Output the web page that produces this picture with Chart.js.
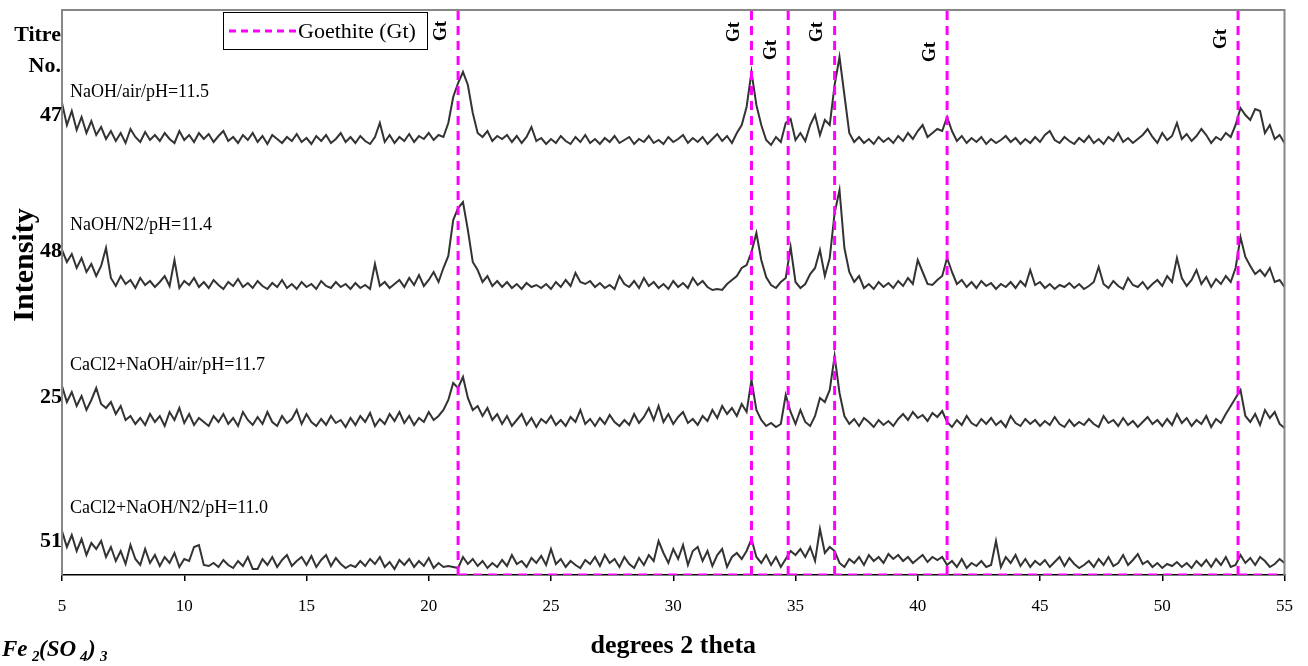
<!DOCTYPE html>
<html>
<head>
<meta charset="utf-8">
<title>XRD - Fe2(SO4)3 titres</title>
<script src="https://cdn.jsdelivr.net/npm/chart.js@4.4.0/dist/chart.umd.min.js"></script>
<style>
  html, body { margin: 0; padding: 0; background: #fff; }
  #wrap { width: 1308px; height: 666px; }
</style>
</head>
<body>
<div id="wrap"><canvas id="xrd" width="1308" height="666"></canvas></div>
<script>
// scan grid: 5 -> 55 deg 2theta, 0.2 deg steps
const angleStart = 5;
const angleStep = 0.2;
const xTicks = [5, 10, 15, 20, 25, 30, 35, 40, 45, 50, 55];

const titreNos = ['47', '48', '25', '51'];
const sampleNames = ['NaOH/air/pH=11.5', 'NaOH/N2/pH=11.4', 'CaCl2+NaOH/air/pH=11.7', 'CaCl2+NaOH/N2/pH=11.0'];
// vertical stacking of the patterns (intensity units)
const traceOffsets = [430, 285, 147, 6];

// intensities, one value per 0.2 deg
const titre47 = [
  42, 20, 34, 15, 28, 12, 24, 10, 18, 6,
  14, 4, 12, 2, 16, 8, 3, 13, 5, 10,
  4, 12, 6, 2, 14, 5, 10, 3, 12, 6,
  11, 3, 9, 14, 4, 8, 2, 10, 5, 12,
  3, 9, 1, 10, 6, 2, 8, 4, 11, 3,
  7, 1, 9, 4, 10, 2, 6, 12, 3, 8,
  2, 9, 4, 1, 8, 22, 3, 10, 2, 8,
  4, 11, 3, 9, 6, 12, 5, 10, 8, 22,
  48, 62, 73, 60, 32, 12, 8, 14, 4, 9,
  6, 10, 3, 9, 2, 8, 18, 4, 7, 1,
  6, 2, 9, 4, 1, 8, 3, 10, 2, 6,
  1, 7, 3, 9, 2, 5, 8, 1, 6, 3,
  9, 2, 5, 1, 8, 3, 6, 10, 2, 7,
  3, 8, 1, 6, 11, 4, 9, 2, 12, 20,
  38, 73, 40, 20, 5, 0, 8, 3, 22, 26,
  5, 12, 4, 20, 30, 10, 25, 20, 60, 88,
  50, 12, 3, 8, 2, 6, 1, 8, 3, 7,
  2, 9, 4, 12, 6, 14, 20, 8, 12, 16,
  14, 28, 14, 4, 9, 2, 7, 3, 8, 1,
  6, 2, 5, 9, 3, 7, 1, 6, 2, 8,
  3, 10, 14, 5, 2, 8, 4, 1, 7, 3,
  9, 2, 6, 1, 8, 4, 12, 3, 7, 2,
  6, 10, 16, 8, 2, 12, 5, 9, 22, 6,
  11, 4, 9, 16, 10, 2, 8, 5, 12, 8,
  20, 37, 30, 25, 36, 34, 12, 20, 6, 10,
  2
];
const titre48 = [
  40, 28, 36, 22, 32, 18, 26, 14, 24, 42,
  12, 4, 14, 6, 10, 2, 12, 5, 9, 3,
  8, 14, 4, 30, 2, 9, 5, 12, 3, 8,
  2, 10, 5, 1, 8, 4, 11, 3, 7, 2,
  9, 4, 1, 7, 3, 10, 2, 6, 1, 8,
  3, 6, 1, 9, 4, 2, 8, 3, 6, 1,
  7, 2, 5, 1, 26, 4, 8, 2, 6, 10,
  3, 12, 5, 15, 4, 10, 18, 8, 22, 34,
  70, 82, 88, 60, 28, 20, 8, 14, 4, 9,
  3, 8, 2, 6, 1, 7, 3, 5, 2, 6,
  1, 8, 3, 10, 4, 17, 8, 6, 9, 3,
  7, 2, 5, 1, 14, 6, 3, 9, 2, 12,
  4, 8, 2, 6, 1, 9, 3, 7, 2, 12,
  5, 9, 3, 0, 1, 0, 6, 10, 14, 22,
  25, 38, 57, 30, 13, 5, 2, 8, 12, 43,
  8, 2, 6, 16, 22, 40, 14, 32, 77, 100,
  42, 18, 8, 14, 2, 6, 1, 8, 3, 7,
  2, 9, 4, 12, 6, 30, 18, 6, 5, 10,
  14, 32, 18, 6, 10, 3, 8, 2, 9, 4,
  7, 1, 6, 3, 8, 2, 9, 4, 20, 5,
  8, 2, 6, 1, 5, 3, 7, 2, 6, 1,
  4, 8, 23, 6, 2, 9, 4, 1, 12, 5,
  3, 8, 1, 6, 10, 4, 14, 8, 32, 12,
  4, 10, 20, 6, 13, 3, 11, 6, 14, 8,
  22, 53, 33, 24, 16, 20, 14, 22, 8, 10,
  3
];
const titre25 = [
  42, 26, 36, 22, 32, 18, 28, 40, 24, 20,
  26, 14, 22, 8, 12, 4, 10, 3, 14, 6,
  12, 2, 16, 8, 20, 5, 14, 3, 10, 6,
  2, 12, 6, 14, 4, 10, 2, 16, 8, 3,
  11, 4, 16, 6, 2, 12, 5, 9, 18, 4,
  14, 6, 2, 9, 3, 12, 5, 8, 1, 10,
  3, 12, 6, 15, 2, 9, 4, 14, 7, 16,
  5, 12, 3, 10, 6, 16, 8, 12, 18, 28,
  45, 40, 51, 30, 18, 22, 12, 20, 8, 14,
  4, 12, 2, 8, 14, 3, 10, 1, 9, 5,
  12, 3, 8, 2, 11, 6, 18, 4, 9, 2,
  10, 4, 13, 6, 2, 8, 3, 14, 5, 11,
  20, 8, 22, 6, 14, 4, 11, 16, 5, 9,
  3, 12, 7, 18, 10, 22, 14, 20, 12, 24,
  16, 48, 18, 8, 2, 5, 1, 4, 33, 16,
  4, 18, 6, 2, 12, 30, 26, 38, 72, 35,
  12, 4, 9, 2, 10, 6, 1, 8, 3, 7,
  2, 9, 14, 8, 16, 10, 13, 7, 15, 11,
  17, 6, 1, 8, 3, 12, 5, 2, 9, 4,
  10, 3, 7, 1, 12, 5, 2, 9, 4, 8,
  2, 7, 3, 11, 4, 1, 8, 2, 6, 3,
  9, 4, 1, 12, 5, 8, 2, 10, 3, 7,
  1, 6, 11, 4, 8, 2, 9, 3, 14, 5,
  10, 2, 8, 4, 12, 1, 9, 5, 14, 22,
  30, 38, 12, 6, 14, 3, 18, 10, 16, 4,
  0
];
const titre51 = [
  38, 22, 34, 18, 30, 14, 26, 20, 28, 12,
  22, 8, 18, 5, 24, 10, 4, 20, 6, 14,
  3, 12, 6, 16, 2, 10, 8, 22, 24, 4,
  3, 6, 2, 9, 4, 1, 8, 3, 12, 0,
  0, 10, 4, 12, 2, 9, 14, 3, 8, 12,
  4, 13, 2, 9, 14, 3, 11, 5, 1, 4,
  2, 8, 3, 10, 5, 12, 2, 7, 0, 9,
  4, 10, 2, 8, 3, 11, 1, 6, 2, 3,
  2, 1, 12, 5, 10, 3, 8, 1, 6, 2,
  9, 3, 14, 5, 8, 2, 11, 6, 13, 4,
  20, 5, 10, 2, 8, 4, 1, 9, 5, 12,
  3, 14, 6, 10, 2, 12, 5, 1, 11, 4,
  14, 8, 28, 16, 6, 20, 10, 24, 4, 18,
  22, 8, 18, 3, 14, 20, 2, 12, 16, 10,
  18, 30, 12, 6, 14, 4, 12, 2, 10, 18,
  14, 20, 12, 22, 8, 40, 16, 22, 18, 6,
  2, 10, 6, 12, 4, 14, 8, 12, 6, 15,
  10, 14, 8, 12, 6, 10, 14, 7, 12, 9,
  12, 4, 8, 2, 10, 1, 6, 3, 8, 2,
  4, 28, 2, 12, 6, 14, 3, 10, 2, 8,
  4, 9, 2, 7, 12, 3, 11, 5, 1, 4,
  8, 2, 10, 4, 12, 3, 6, 14, 4, 9,
  15, 5, 8, 2, 6, 1, 5, 3, 7, 2,
  6, 1, 8, 3, 9, 2, 10, 4, 12, 2,
  4, 14, 6, 11, 4, 12, 8, 2, 5, 10,
  6
];

// goethite reference reflections (deg 2theta)
const goethitePeaks = [21.2, 33.2, 34.7, 36.6, 41.2, 53.1];

const yTop = 565;
const serif = "'Liberation Serif', 'Times New Roman', serif";
const traceColor = '#333333';
const gtColor = '#ff00ff';

const patterns = [titre47, titre48, titre25, titre51];

function toPoints(vals, offset) {
  return vals.map((v, i) => ({ x: +(angleStart + i * angleStep).toFixed(1), y: offset + v }));
}

// each reference line drawn once bottom -> top, gaps in between, then the baseline run to 55
const gtPoints = [];
goethitePeaks.forEach(p => {
  gtPoints.push({ x: p, y: 0 }, { x: p, y: yTop }, { x: p, y: null });
});
gtPoints.push({ x: goethitePeaks[0], y: 0 }, { x: 55, y: 0 });

const datasets = patterns.map((vals, k) => ({
  label: titreNos[k],
  data: toPoints(vals, traceOffsets[k]),
  borderColor: traceColor,
  borderWidth: 2,
  pointRadius: 0,
  tension: 0,
  order: 1
}));
datasets.push({
  label: 'Goethite (Gt)',
  data: gtPoints,
  borderColor: gtColor,
  borderWidth: 3,
  borderDash: [9, 6],
  pointRadius: 0,
  tension: 0,
  spanGaps: false,
  order: 0
});

// Gt label height (px from top) per reference line
const gtLabelY = [31, 32, 50, 32, 52, 39];
const titreY = [115, 251, 397, 541];
const nameY = [97, 230, 370, 513];

const overlay = {
  id: 'overlay',
  afterDraw(chart) {
    const { ctx, chartArea: a, scales: { x } } = chart;
    ctx.save();

    // grey frame (top, left, right)
    ctx.strokeStyle = '#878787';
    ctx.lineWidth = 2;
    ctx.setLineDash([]);
    ctx.beginPath();
    ctx.moveTo(a.left, a.bottom);
    ctx.lineTo(a.left, a.top);
    ctx.lineTo(a.right, a.top);
    ctx.lineTo(a.right, a.bottom);
    ctx.stroke();

    ctx.fillStyle = '#000';

    // Titre No.
    ctx.font = 'bold 22px ' + serif;
    ctx.textAlign = 'right';
    ctx.textBaseline = 'middle';
    ctx.fillText('Titre', 61, 35);
    ctx.fillText('No.', 61, 66);
    titreNos.forEach((t, k) => ctx.fillText(t, 62, titreY[k]));

    // sample names
    ctx.font = '18px ' + serif;
    ctx.textAlign = 'left';
    ctx.textBaseline = 'alphabetic';
    sampleNames.forEach((n, k) => ctx.fillText(n, 70, nameY[k]));

    // y title
    ctx.save();
    ctx.translate(25, 265);
    ctx.rotate(-Math.PI / 2);
    ctx.font = 'bold 30px ' + serif;
    ctx.textAlign = 'center';
    ctx.textBaseline = 'middle';
    ctx.fillText('Intensity', 0, 0);
    ctx.restore();

    // Gt markers
    ctx.font = 'bold 18px ' + serif;
    goethitePeaks.forEach((p, k) => {
      ctx.save();
      ctx.translate(x.getPixelForValue(p) - 17, gtLabelY[k]);
      ctx.rotate(-Math.PI / 2);
      ctx.textAlign = 'center';
      ctx.textBaseline = 'middle';
      ctx.fillText('Gt', 0, 0);
      ctx.restore();
    });

    // legend box
    ctx.fillStyle = '#fff';
    ctx.fillRect(223, 12, 204, 37);
    ctx.strokeStyle = '#000';
    ctx.lineWidth = 1;
    ctx.strokeRect(223.5, 12.5, 204, 37);
    ctx.strokeStyle = gtColor;
    ctx.lineWidth = 3;
    ctx.setLineDash([7, 5]);
    ctx.beginPath();
    ctx.moveTo(229, 31);
    ctx.lineTo(296, 31);
    ctx.stroke();
    ctx.setLineDash([]);
    ctx.fillStyle = '#000';
    ctx.font = '22px ' + serif;
    ctx.textAlign = 'left';
    ctx.textBaseline = 'middle';
    ctx.fillText('Goethite (Gt)', 298, 32);

    // Fe2(SO4)3
    ctx.textBaseline = 'alphabetic';
    const big = 'italic bold 23px ' + serif;
    const sub = 'italic bold 15px ' + serif;
    const parts = [['Fe', big, 2, 656], ['2', sub, 32, 661], ['(SO', big, 39, 656],
                   ['4', sub, 80, 661], [')', big, 88, 656], ['3', sub, 100, 661]];
    parts.forEach(([t, f, px, py]) => { ctx.font = f; ctx.fillText(t, px, py); });

    ctx.restore();
  }
};

new Chart(document.getElementById('xrd'), {
  type: 'line',
  data: { datasets },
  options: {
    responsive: false,
    animation: false,
    events: [],
    layout: { padding: { left: 62, right: 21, top: 10, bottom: 0 } },
    plugins: { legend: { display: false }, tooltip: { enabled: false } },
    scales: {
      x: {
        type: 'linear',
        min: 5,
        max: 55,
        afterBuildTicks: s => { s.ticks = xTicks.map(v => ({ value: v })); },
        afterFit: s => { s.height = 91; },
        ticks: { color: '#000', font: { family: serif, size: 17 }, padding: 15, maxRotation: 0 },
        grid: { drawOnChartArea: false, drawTicks: true, tickLength: 6, color: '#000', lineWidth: 1.5 },
        border: { display: true, color: '#000', width: 1.5 },
        title: { display: true, text: 'degrees 2 theta', color: '#000', font: { family: serif, size: 26, weight: 'bold' }, padding: { top: 0, bottom: 4 } }
      },
      y: { display: false, min: 0, max: yTop }
    }
  },
  plugins: [overlay]
});
</script>
</body>
</html>
